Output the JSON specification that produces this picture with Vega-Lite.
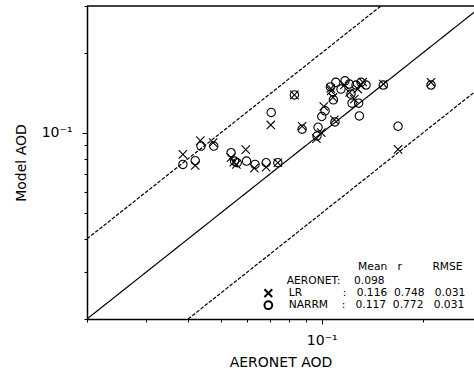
{
  "$schema": "https://vega.github.io/schema/vega-lite/v6.json",
  "autosize": {"type": "none"},
  "padding": {"left": 87, "top": 6, "right": 0, "bottom": 59},
  "width": 387,
  "height": 313,
  "background": "white",
  "config": {
    "view": {"stroke": null},
    "font": "DejaVu Sans",
    "axis": {
      "grid": false,
      "domainColor": "#000",
      "domainWidth": 1.5,
      "tickColor": "#000",
      "tickWidth": 1,
      "labelFont": "DejaVu Sans",
      "labelFontSize": 14,
      "labelColor": "#000",
      "titleFont": "DejaVu Sans",
      "titleFontSize": 14,
      "titleFontWeight": "normal",
      "titleColor": "#000",
      "labelFlush": false,
      "labelOverlap": false
    }
  },
  "layer": [
    {
      "data": {"values": [{}]},
      "mark": {"type": "rule", "color": "#000", "strokeWidth": 1.5},
      "encoding": {"y": {"datum": 0.3, "type": "quantitative", "scale": {"type": "log", "domain": [0.02, 0.3], "nice": false}}}
    },
    {
      "data": {"values": [
        {"x": 0.02, "y": 0.02, "line": "1:1"},
        {"x": 0.3, "y": 0.3, "line": "1:1"},
        {"x": 0.02, "y": 0.04, "line": "2:1"},
        {"x": 0.15, "y": 0.3, "line": "2:1"},
        {"x": 0.04, "y": 0.02, "line": "1:2"},
        {"x": 0.6, "y": 0.3, "line": "1:2"}
      ]},
      "mark": {"type": "line", "color": "#000", "strokeWidth": 1.2, "clip": true},
      "encoding": {
        "x": {"field": "x", "type": "quantitative"},
        "y": {"field": "y", "type": "quantitative"},
        "detail": {"field": "line"},
        "strokeDash": {"field": "line", "type": "nominal", "scale": {"domain": ["1:1", "2:1", "1:2"], "range": [[1, 0], [3.7, 1.6], [3.7, 1.6]]}, "legend": null}
      }
    },
    {
      "data": {"values": [
        {"a": 0.0386, "m": 0.0831, "model": "LR"},
        {"a": 0.0420, "m": 0.0755, "model": "LR"},
        {"a": 0.0435, "m": 0.0936, "model": "LR"},
        {"a": 0.0475, "m": 0.0920, "model": "LR"},
        {"a": 0.0537, "m": 0.0808, "model": "LR"},
        {"a": 0.0547, "m": 0.0777, "model": "LR"},
        {"a": 0.0557, "m": 0.0762, "model": "LR"},
        {"a": 0.0594, "m": 0.0866, "model": "LR"},
        {"a": 0.0630, "m": 0.0738, "model": "LR"},
        {"a": 0.0683, "m": 0.0744, "model": "LR"},
        {"a": 0.0705, "m": 0.1072, "model": "LR"},
        {"a": 0.0740, "m": 0.0773, "model": "LR"},
        {"a": 0.0829, "m": 0.139, "model": "LR"},
        {"a": 0.0874, "m": 0.106, "model": "LR"},
        {"a": 0.0964, "m": 0.0952, "model": "LR"},
        {"a": 0.0997, "m": 0.1003, "model": "LR"},
        {"a": 0.1014, "m": 0.1258, "model": "LR"},
        {"a": 0.1064, "m": 0.147, "model": "LR"},
        {"a": 0.109, "m": 0.112, "model": "LR"},
        {"a": 0.108, "m": 0.136, "model": "LR"},
        {"a": 0.1066, "m": 0.144, "model": "LR"},
        {"a": 0.1168, "m": 0.1514, "model": "LR"},
        {"a": 0.1211, "m": 0.142, "model": "LR"},
        {"a": 0.125, "m": 0.134, "model": "LR"},
        {"a": 0.1303, "m": 0.1514, "model": "LR"},
        {"a": 0.1325, "m": 0.1554, "model": "LR"},
        {"a": 0.128, "m": 0.1462, "model": "LR"},
        {"a": 0.1525, "m": 0.1527, "model": "LR"},
        {"a": 0.1687, "m": 0.0868, "model": "LR"},
        {"a": 0.2115, "m": 0.155, "model": "LR"},
        {"a": 0.0386, "m": 0.0762, "model": "NARRM"},
        {"a": 0.0420, "m": 0.0787, "model": "NARRM"},
        {"a": 0.0437, "m": 0.0893, "model": "NARRM"},
        {"a": 0.0477, "m": 0.0893, "model": "NARRM"},
        {"a": 0.0537, "m": 0.0843, "model": "NARRM"},
        {"a": 0.0550, "m": 0.0784, "model": "NARRM"},
        {"a": 0.0560, "m": 0.0773, "model": "NARRM"},
        {"a": 0.0597, "m": 0.0784, "model": "NARRM"},
        {"a": 0.0633, "m": 0.0762, "model": "NARRM"},
        {"a": 0.0683, "m": 0.0773, "model": "NARRM"},
        {"a": 0.0707, "m": 0.1194, "model": "NARRM"},
        {"a": 0.0740, "m": 0.0773, "model": "NARRM"},
        {"a": 0.0829, "m": 0.139, "model": "NARRM"},
        {"a": 0.0874, "m": 0.1033, "model": "NARRM"},
        {"a": 0.0975, "m": 0.1051, "model": "NARRM"},
        {"a": 0.0968, "m": 0.0974, "model": "NARRM"},
        {"a": 0.1000, "m": 0.1153, "model": "NARRM"},
        {"a": 0.1023, "m": 0.1211, "model": "NARRM"},
        {"a": 0.1083, "m": 0.1332, "model": "NARRM"},
        {"a": 0.1061, "m": 0.149, "model": "NARRM"},
        {"a": 0.1095, "m": 0.110, "model": "NARRM"},
        {"a": 0.1101, "m": 0.155, "model": "NARRM"},
        {"a": 0.1173, "m": 0.157, "model": "NARRM"},
        {"a": 0.1208, "m": 0.1527, "model": "NARRM"},
        {"a": 0.1231, "m": 0.1294, "model": "NARRM"},
        {"a": 0.1265, "m": 0.1514, "model": "NARRM"},
        {"a": 0.1288, "m": 0.1294, "model": "NARRM"},
        {"a": 0.1294, "m": 0.1159, "model": "NARRM"},
        {"a": 0.1309, "m": 0.155, "model": "NARRM"},
        {"a": 0.1355, "m": 0.1514, "model": "NARRM"},
        {"a": 0.1525, "m": 0.1514, "model": "NARRM"},
        {"a": 0.1687, "m": 0.106, "model": "NARRM"},
        {"a": 0.2115, "m": 0.1514, "model": "NARRM"},
        {"a": 0.1222, "m": 0.140, "model": "NARRM"},
        {"a": 0.1141, "m": 0.1462, "model": "NARRM"}
      ]},
      "mark": {"type": "point", "filled": false, "color": "#000", "strokeWidth": 1.1, "size": 70, "opacity": 1},
      "encoding": {
        "x": {
          "field": "a", "type": "quantitative",
          "scale": {"type": "log", "domain": [0.02, 0.284], "nice": false},
          "axis": {
            "title": "AERONET AOD",
            "values": [0.02, 0.03, 0.04, 0.05, 0.06, 0.07, 0.08, 0.09, 0.1, 0.2],
            "labelExpr": "datum.value == 0.1 ? '10\u207b\u00b9' : ''",
            "tickSize": {"condition": {"test": "datum.value == 0.1", "value": 5}, "value": 3},
            "labelPadding": 9,
            "titlePadding": 8
          }
        },
        "y": {
          "field": "m", "type": "quantitative",
          "scale": {"type": "log", "domain": [0.02, 0.3], "nice": false},
          "axis": {
            "title": "Model AOD",
            "values": [0.02, 0.03, 0.04, 0.05, 0.06, 0.07, 0.08, 0.09, 0.1, 0.2, 0.3],
            "labelExpr": "datum.value == 0.1 ? '10\u207b\u00b9' : ''",
            "tickSize": {"condition": {"test": "datum.value == 0.1", "value": 5}, "value": 3},
            "labelPadding": 10,
            "titlePadding": 13
          }
        },
        "shape": {
          "field": "model", "type": "nominal",
          "scale": {"domain": ["LR", "NARRM"], "range": ["M-1,-1L1,1M-1,1L1,-1", "circle"]},
          "legend": {
            "orient": "bottom-right",
            "offset": 8,
            "padding": 0,
            "clipHeight": 11,
            "title": ["\u200b\u00a0\u00a0\u00a0\u00a0\u00a0\u00a0\u00a0\u00a0\u00a0\u00a0\u00a0\u00a0\u00a0\u00a0\u00a0\u00a0\u00a0\u00a0\u00a0\u00a0\u00a0\u00a0\u00a0\u00a0\u00a0\u00a0\u00a0\u00a0Mean\u00a0\u00a0\u00a0r\u00a0\u00a0\u00a0\u00a0\u00a0\u00a0\u00a0\u00a0\u00a0RMSE", "\u200b\u00a0\u00a0\u00a0\u00a0\u00a0\u00a0\u00a0AERONET:\u00a0\u00a0\u00a0\u00a00.098"],
            "titleFont": "DejaVu Sans",
            "titleFontSize": 10.7,
            "titleFontWeight": "normal",
            "titleColor": "#000",
            "titleLineHeight": 14,
            "titlePadding": 1,
            "titleLimit": 0,
            "labelLimit": 0,
            "labelFont": "DejaVu Sans",
            "labelFontSize": 10.7,
            "labelColor": "#000",
            "labelOffset": 15,
            "rowPadding": 0,
            "symbolSize": 60,
            "symbolStrokeWidth": 2,
            "symbolStrokeColor": "#000",
            "labelExpr": "datum.label == 'LR' ? 'LR\u00a0\u00a0\u00a0\u00a0\u00a0\u00a0\u00a0\u00a0\u00a0\u00a0\u00a0\u00a0:\u00a0\u00a0\u00a00.116\u00a0\u00a00.748\u00a0\u00a0\u00a00.031' : 'NARRM\u00a0\u00a0\u00a0\u00a0:\u00a0\u00a0\u00a00.117\u00a0\u00a00.772\u00a0\u00a0\u00a00.031'"
          }
        }
      }
    }
  ]
}
